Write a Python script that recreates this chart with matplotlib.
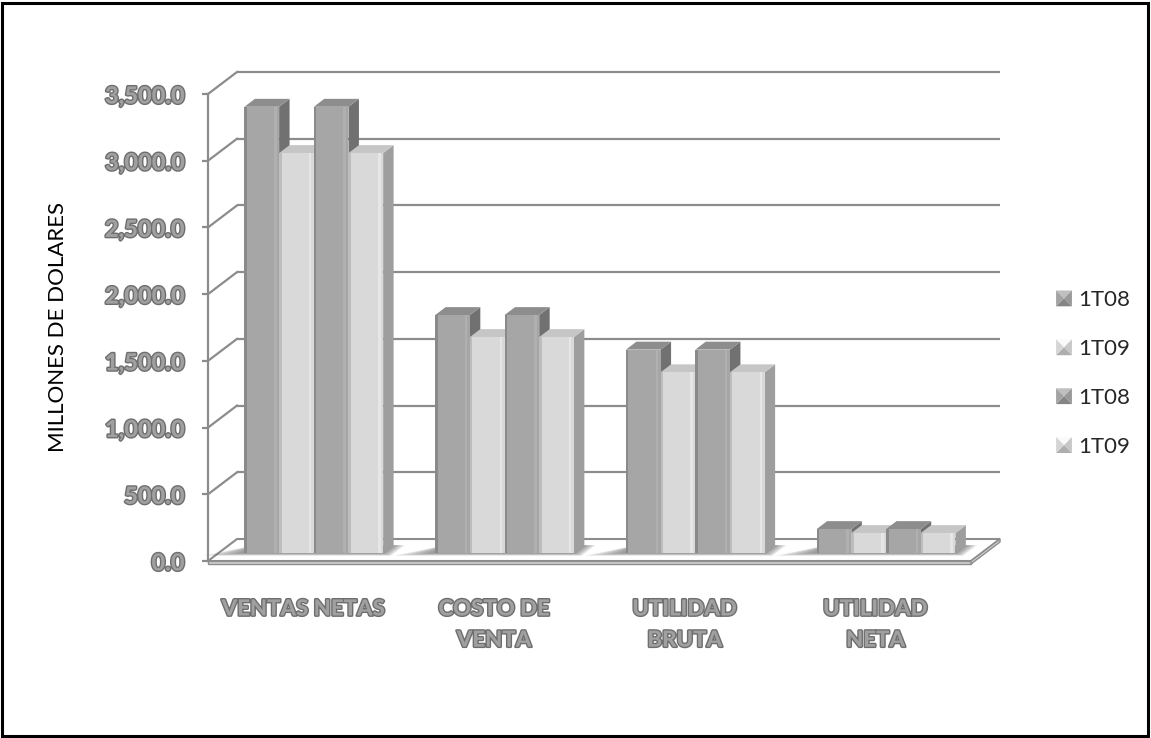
import matplotlib
matplotlib.use("Agg")
import matplotlib.pyplot as plt
import matplotlib.patheffects as pe
from matplotlib.patches import Polygon, Rectangle, Patch
from matplotlib.legend_handler import HandlerBase

# ---- data ----
categories = ["VENTAS NETAS", "COSTO DE\nVENTA", "UTILIDAD\nBRUTA", "UTILIDAD\nNETA"]
series_names = ["1T08", "1T09", "1T08", "1T09"]
values_1t08 = [3345, 1784, 1525, 180]
values_1t09 = [2998, 1619, 1355, 150]
series_values = [values_1t08, values_1t09, values_1t08, values_1t09]
yticks = [0, 500, 1000, 1500, 2000, 2500, 3000, 3500]
ytick_labels = [f"{v:,.1f}" for v in yticks]

# ---- styles ----
# (front, side, top, rims) shades for the two series tones
dark = dict(front="#a6a6a6", side="#717171", top="#8d8d8d", edge="#8a8a8a", hi="#b0b0b0")
light = dict(front="#d9d9d9", side="#9e9e9e", top="#c6c6c6", edge="#bdbdbd", hi="#e6e6e6")
series_styles = [dark, light, dark, light]
grid_color = "#8c8c8c"
label_gray = "#a0a0a0"
label_edge = "#6e6e6e"

W, H = 1151, 738
fig = plt.figure(figsize=(W / 100, H / 100), dpi=100)

# front plane of the plotting box
left_px, right_px, top_px, bottom_px = 208, 971, 94, 561
ax = fig.add_axes([left_px / W, 1 - bottom_px / H,
                   (right_px - left_px) / W, (bottom_px - top_px) / H])
n_cat = len(categories)
ax.set_xlim(0, n_cat)
ax.set_ylim(0, yticks[-1])

# depth of the pseudo-3D box, expressed in data units
px_x = n_cat / (right_px - left_px)
px_y = yticks[-1] / (bottom_px - top_px)
DX = 29 * px_x
DY = 22 * px_y


def P(x, y, d):
    return (x + d * DX, y + d * DY)


# back wall and side wall gridlines
for v in yticks[1:]:
    ax.plot(*zip(P(0, v, 1), P(n_cat, v, 1)), color=grid_color, lw=1.6,
            clip_on=False, zorder=1, solid_capstyle="butt")
    ax.plot(*zip(P(0, v, 0), P(0, v, 1)), color=grid_color, lw=1.6,
            clip_on=False, zorder=1)

# floor slab
t = 3 * px_y
floor_top = [P(0, 0, 0), P(n_cat, 0, 0), P(n_cat, 0, 1), P(0, 0, 1)]
ax.add_patch(Polygon(floor_top, closed=True, fc="white", ec=grid_color, lw=1.5,
                     clip_on=False, zorder=2))
ax.add_patch(Polygon([P(0, 0, 0), P(n_cat, 0, 0), P(n_cat, -t, 0), P(0, -t, 0)],
                     closed=True, fc="#d4d4d4", ec=grid_color, lw=1.0,
                     clip_on=False, zorder=2))
ax.add_patch(Polygon([P(n_cat, 0, 0), P(n_cat, 0, 1), P(n_cat, -t, 1), P(n_cat, -t, 0)],
                     closed=True, fc="#d4d4d4", ec=grid_color, lw=1.0,
                     clip_on=False, zorder=2))

# soft shadows cast on the floor by each cluster
n_ser = len(series_values)
gap = 1.5
w = 1.0 / (n_ser + gap)
d_front, d_back = 0.36, 0.72
for i in range(n_cat):
    x0 = i + gap / 2 * w
    x1 = x0 + n_ser * w
    for k in range(10):
        spread = (10 - k) / 10
        ax.add_patch(Polygon([P(x0 - 0.2 * spread, 0, d_front - 0.12 * spread),
                              P(x1 + 0.06 * spread, 0, d_front - 0.12 * spread),
                              P(x1 + 0.06 * spread, 0, d_back),
                              P(x0, 0, d_back)],
                             closed=True, fc="#606060", ec="none", alpha=0.09,
                             clip_on=False, zorder=2.5))

# bars
z = 3
for i in range(n_cat):
    for j in range(n_ser):
        v = series_values[j][i]
        st = series_styles[j]
        x0 = i + (gap / 2 + j) * w
        x1 = x0 + w
        side = [P(x1, 0, d_front), P(x1, 0, d_back), P(x1, v, d_back), P(x1, v, d_front)]
        top = [P(x0, v, d_front), P(x1, v, d_front), P(x1, v, d_back), P(x0, v, d_back)]
        front = [P(x0, 0, d_front), P(x1, 0, d_front), P(x1, v, d_front), P(x0, v, d_front)]
        ax.add_patch(Polygon(side, closed=True, fc=st["side"], ec="none", zorder=z, clip_on=False))
        ax.add_patch(Polygon(top, closed=True, fc=st["top"], ec="none", zorder=z, clip_on=False))
        ax.add_patch(Polygon(front, closed=True, fc=st["front"], ec="none", zorder=z, clip_on=False))
        # bevel: darker left rim and lighter right rim on the front face
        rim = 2.5 * px_x
        ax.add_patch(Polygon([P(x0, 0, d_front), P(x0 + rim, 0, d_front),
                              P(x0 + rim, v, d_front), P(x0, v, d_front)],
                             closed=True, fc=st["edge"], ec="none", zorder=z, clip_on=False))
        ax.add_patch(Polygon([P(x1 - 2 * rim, 0, d_front), P(x1 - rim, 0, d_front),
                              P(x1 - rim, v, d_front), P(x1 - 2 * rim, v, d_front)],
                             closed=True, fc=st["hi"], ec="none", zorder=z, clip_on=False))
        z += 0.01

# front vertical axis and ticks
for s in ["top", "right", "bottom"]:
    ax.spines[s].set_visible(False)
ax.spines["left"].set_color(grid_color)
ax.spines["left"].set_linewidth(1.6)
ax.set_facecolor("none")
ax.set_yticks(yticks)
ax.set_yticklabels(ytick_labels)
ax.tick_params(axis="y", length=4, width=1.6, color=grid_color, pad=13)
ax.set_xticks([i + 0.5 for i in range(n_cat)])
ax.set_xticklabels(categories)
ax.tick_params(axis="x", length=0, pad=27)

outline = [pe.withStroke(linewidth=2.0, foreground=label_edge)]
for lab in ax.get_yticklabels():
    lab.set_fontfamily("Lato")
    lab.set_fontweight("black")
    lab.set_fontsize(17)
    lab.set_color(label_gray)
    lab.set_path_effects(outline)
for lab in ax.get_xticklabels():
    lab.set_fontfamily("Lato")
    lab.set_fontweight("black")
    lab.set_fontsize(16)
    lab.set_color(label_gray)
    lab.set_path_effects(outline)
    lab.set_linespacing(1.6)

ax.set_ylabel("MILLONES DE DOLARES", fontfamily="Lato", fontsize=16,
              color="black", labelpad=0)
ax.yaxis.set_label_coords(-(left_px - 68) / (right_px - left_px), 0.5)


# legend with bevelled square keys
class BevelKey(HandlerBase):
    def create_artists(self, legend, orig_handle, xdescent, ydescent,
                       width, height, fontsize, trans):
        base = orig_handle.get_facecolor()
        s = min(width, height)
        cx, cy = width / 2 - xdescent, height / 2 - ydescent
        h = s / 2
        tl, tr, br, bl = (cx - h, cy + h), (cx + h, cy + h), (cx + h, cy - h), (cx - h, cy - h)
        c = (cx, cy)
        shades = [1.15, 0.92, 0.80, 0.98]
        faces = [[tl, tr, c], [tr, br, c], [br, bl, c], [bl, tl, c]]
        arts = []
        for f, k in zip(faces, shades):
            col = tuple(min(1, ch * k) for ch in base[:3])
            p = Polygon(f, closed=True, fc=col, ec="none", transform=trans)
            arts.append(p)
        return arts


handles = [Patch(fc=series_styles[j]["front"]) for j in range(n_ser)]
leg = fig.legend(handles, series_names, loc="center left",
                 bbox_to_anchor=(1056 / W, 1 - 373.5 / H), frameon=False,
                 handler_map={Patch: BevelKey()}, handlelength=0.72, handleheight=0.72,
                 handletextpad=0.3, labelspacing=1.3, borderpad=0, borderaxespad=0,
                 prop=dict(family="Lato", size=16))
for txt in leg.get_texts():
    txt.set_color("#262626")

# outer frame
fig.add_artist(Rectangle((2 / W, 2 / H), (W - 5) / W, (H - 5) / H,
                         transform=fig.transFigure, fill=False, ec="black", lw=2.2))

fig.savefig("out.png", dpi=100)
